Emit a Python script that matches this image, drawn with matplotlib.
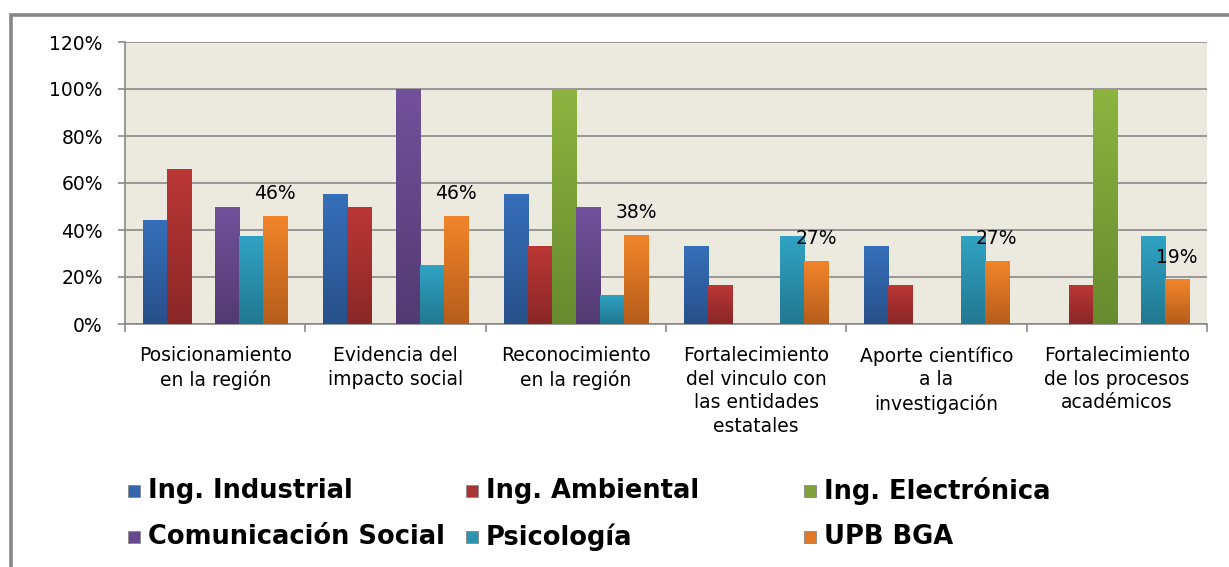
import numpy as np
import matplotlib
matplotlib.use("Agg")
import matplotlib.pyplot as plt
from matplotlib.patches import Rectangle
from matplotlib.colors import LinearSegmentedColormap
from matplotlib.ticker import FixedLocator, PercentFormatter

categories = [
    "Posicionamiento\nen la región",
    "Evidencia del\nimpacto social",
    "Reconocimiento\nen la región",
    "Fortalecimiento\ndel vinculo con\nlas entidades\nestatales",
    "Aporte científico\na la\ninvestigación",
    "Fortalecimiento\nde los procesos\nacadémicos",
]
series_names = ["Ing. Industrial", "Ing. Ambiental", "Ing. Electrónica",
                "Comunicación Social", "Psicología", "UPB BGA"]

ing_industrial = [0.444, 0.555, 0.555, 0.333, 0.333, 0.0]
ing_ambiental = [0.66, 0.50, 0.333, 0.166, 0.166, 0.166]
ing_electronica = [0.0, 0.0, 1.00, 0.0, 0.0, 1.00]
comunicacion_social = [0.50, 1.00, 0.50, 0.0, 0.0, 0.0]
psicologia = [0.375, 0.25, 0.125, 0.375, 0.375, 0.375]
upb_bga = [0.46, 0.46, 0.38, 0.27, 0.27, 0.19]

series_values = [ing_industrial, ing_ambiental, ing_electronica,
                 comunicacion_social, psicologia, upb_bga]

top_colors = ["#3670BA", "#BB3735", "#8DB43F", "#72519B", "#31A3C4", "#F2852A"]
bottom_colors = ["#28508A", "#8A2727", "#678A2E", "#533A72", "#217891", "#B65D1B"]
legend_colors = ["#3366AA", "#AA3333", "#7FA23A", "#68488E", "#2D93B0", "#E07825"]

W, H = 1229, 567
fig = plt.figure(figsize=(W / 100, H / 100), dpi=100)
fig.patch.set_facecolor("white")

ax = fig.add_axes([125 / W, 1 - 324 / H, (1207 - 125) / W, (324 - 42) / H])
ax.set_facecolor("#ECE9DF")

n = len(series_values)
x = np.arange(len(categories))
bw = 0.8 / n
grad = np.linspace(0, 1, 256).reshape(-1, 1)

for i, vals in enumerate(series_values):
    bars = ax.bar(x + (i - (n - 1) / 2) * bw, vals, width=bw,
                  color=top_colors[i], zorder=3, linewidth=0)
    cmap = LinearSegmentedColormap.from_list("g%d" % i, [bottom_colors[i], top_colors[i]])
    for b in bars:
        h = b.get_height()
        if h <= 0:
            continue
        im = ax.imshow(grad, cmap=cmap, origin="lower", aspect="auto",
                       extent=(b.get_x(), b.get_x() + b.get_width(), 0, h),
                       zorder=4, interpolation="bilinear")
        im.set_clip_path(b)
    if i == n - 1:
        for b, v in zip(bars, vals):
            ax.annotate("%d%%" % round(v * 100),
                        (b.get_x() + b.get_width() / 2, b.get_height()),
                        xytext=(0, 9), textcoords="offset points",
                        ha="center", va="bottom", fontsize=13.5, color="black",
                        zorder=6)

ax.set_xlim(-0.5, len(categories) - 0.5)
ax.set_ylim(0, 1.2)
ax.set_yticks(np.arange(0, 1.21, 0.2))
ax.yaxis.set_major_formatter(PercentFormatter(1.0, decimals=0))
ax.grid(axis="y", color="#8A8A8A", linewidth=1.2, zorder=1)
ax.set_axisbelow(True)

ax.set_xticks(x)
ax.set_xticklabels(categories, fontsize=13.5, linespacing=1.3)
ax.xaxis.set_minor_locator(FixedLocator(np.arange(-0.5, len(categories), 1.0)))
ax.tick_params(axis="x", which="major", length=0, pad=16)
ax.tick_params(axis="x", which="minor", length=6, color="#8A8A8A", width=1.2)
ax.tick_params(axis="y", length=5, color="#8A8A8A", width=1.2, pad=11, labelsize=13.5)

for s in ["top", "right"]:
    ax.spines[s].set_visible(False)
for s in ["left", "bottom"]:
    ax.spines[s].set_color("#8A8A8A")
    ax.spines[s].set_linewidth(1.2)

# Legend (equal-width columns, row-major)
col_x = [128, 466, 804]
row_y = [491, 537]
for k, name in enumerate(series_names):
    r, c = divmod(k, 3)
    mx, my = col_x[c], row_y[r]
    fig.patches.append(Rectangle((mx / W, 1 - (my + 6) / H), 12 / W, 12 / H,
                                 transform=fig.transFigure, facecolor=legend_colors[k],
                                 edgecolor="#888888", linewidth=0.6))
    fig.text((mx + 20) / W, 1 - my / H, name, fontsize=18.5, fontweight="bold",
             va="center", ha="left", color="black")

# Outer chart frame
fig.patches.append(Rectangle((11 / W, -0.1), 1.2, (1 - 14.5 / H) + 0.1,
                             transform=fig.transFigure, fill=False,
                             edgecolor="#878787", linewidth=2.6))

fig.savefig("out.png", dpi=100, facecolor="white")
